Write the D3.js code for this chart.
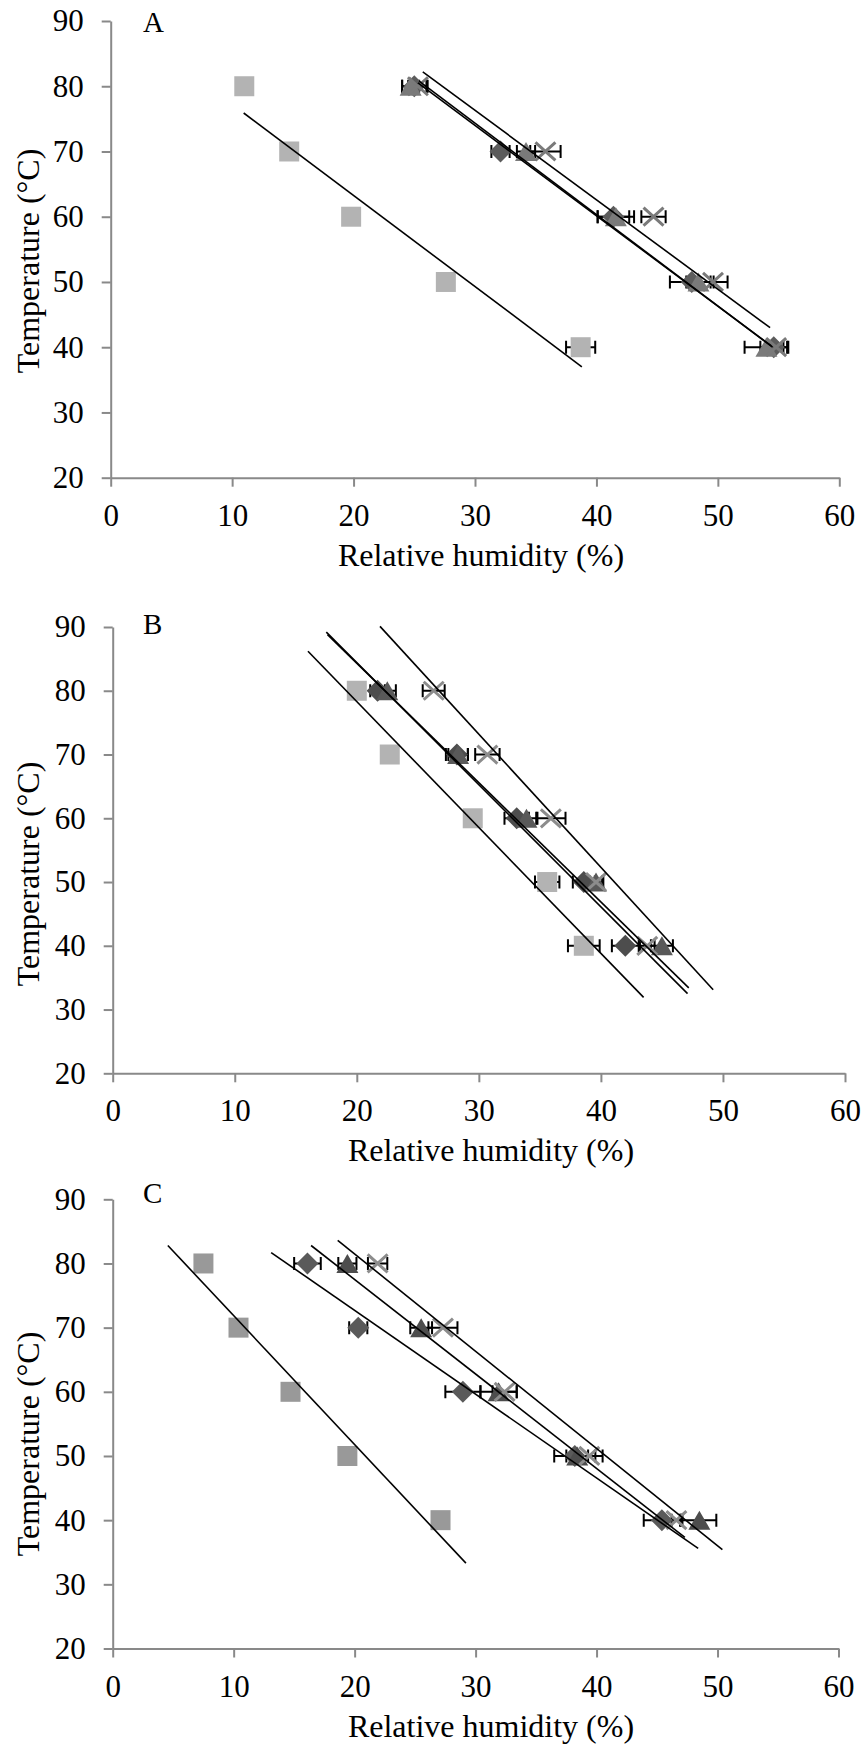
<!DOCTYPE html>
<html>
<head>
<meta charset="utf-8">
<script src="https://cdnjs.cloudflare.com/ajax/libs/d3/7.8.5/d3.min.js"></script>
<style>
body { margin: 0; background: #fff; }
svg text { font-family: "Liberation Serif", "Times New Roman", serif; fill: #000; }
.axis path, .axis line { stroke: #898989; stroke-width: 2; }
.axis text { font-family: "Liberation Serif", "Times New Roman", serif; font-size: 31px; fill: #000; }
</style>
</head>
<body>
<svg id="chart" width="865" height="1751"></svg>
<script>

var temps = [80, 70, 60, 50, 40];
var xTicks = [0, 10, 20, 30, 40, 50, 60];
var yTicks = [20, 30, 40, 50, 60, 70, 80, 90];

// panel A: relative humidity (%) at each temperature, +/- error
var squaresA = [11.0, 14.7, 19.8, 27.6, 38.7];
var squaresErrA = [0.4, 0.4, 0.4, 0.4, 1.2];
var diamondsA = [25.0, 32.1, 41.4, 47.85, 54.6];
var diamondsErrA = [1.0, 0.75, 1.3, 1.8, 1.1];
var trianglesA = [24.7, 34.2, 41.6, 48.4, 54.0];
var trianglesErrA = [0.7, 0.75, 1.5, 1.0, 1.8];
var crossesA = [25.3, 35.8, 44.7, 49.6, 54.8];
var crossesErrA = [0.8, 1.25, 1.0, 1.2, 0.6];
// trendlines: [x1, y1, x2, y2]
var trendA = [[10.95, 75.9, 38.8, 37.0], [25.3, 80.5, 54.4, 40.2], [25.4, 80.8, 54.5, 40.0], [25.7, 82.2, 54.3, 43.0]];

// panel B
var squaresB = [20.0, 22.7, 29.5, 35.6, 38.6];
var squaresErrB = [0.5, 0.5, 0.5, 1.0, 1.3];
var diamondsB = [21.7, 28.2, 33.1, 38.6, 42.0];
var diamondsErrB = [0.6, 0.9, 1.0, 0.9, 1.1];
var trianglesB = [22.5, 28.3, 33.9, 39.6, 45.0];
var trianglesErrB = [0.7, 0.8, 0.9, 0.6, 0.9];
var crossesB = [26.3, 30.7, 35.9, 39.6, 43.8];
var crossesErrB = [0.9, 1.0, 1.2, 0.5, 0.6];
var trendB = [[16.0, 86.2, 43.5, 31.9], [17.5, 89.2, 47.1, 32.5], [17.6, 88.8, 47.2, 33.4], [21.9, 90.1, 49.2, 33.1]];

// panel C
var squaresC = [7.5, 10.4, 14.7, 19.4, 27.1];
var squaresErrC = [0.4, 0.4, 0.4, 0.4, 0.4];
var diamondsC = [16.1, 20.3, 28.95, 38.2, 45.4];
var diamondsErrC = [1.1, 0.75, 1.45, 1.7, 1.5];
var trianglesC = [19.4, 25.5, 31.9, 38.4, 48.5];
var trianglesErrC = [0.75, 0.9, 1.5, 0.9, 1.4];
var crossesC = [21.9, 27.3, 32.4, 39.4, 46.6];
var crossesErrC = [0.8, 1.2, 1.0, 1.1, 0.4];
var trendC = [[4.56, 82.8, 29.2, 33.3], [13.1, 81.7, 48.4, 35.6], [16.4, 82.8, 47.3, 37.3], [18.6, 83.6, 50.4, 35.4]];

var svg = d3.select("#chart");

var shapes = {
	square: "M-10,-10h20v20h-20z",
	diamond: "M0,-11L11,0L0,11L-11,0Z",
	triangle: "M0,-9.5L11,9.5L-11,9.5Z",
	cross: "M-10,-9L10,9M-10,9L10,-9"
};

function addErrorBars(g, x, y, vals, errs) {
	var bars = g.append("g").attr("class", "err")
	bars.selectAll("path")
		.data(vals).enter()
		.append("path")
		.attr("fill", "none")
		.attr("stroke", "#000")
		.attr("stroke-width", 2)
		.attr("d", function(d, i) {
			var x1 = x(d - errs[i]), x2 = x(d + errs[i]), yy = y(temps[i]);
			return "M" + x1 + "," + yy + "H" + x2 +
				"M" + x1 + "," + (yy - 6.5) + "V" + (yy + 6.5) +
				"M" + x2 + "," + (yy - 6.5) + "V" + (yy + 6.5);
		})
}

function addMarkers(g, x, y, vals, kind, color) {
	g.append("g").selectAll("path")
		.data(vals).enter()
		.append("path")
		.attr("transform", function(d, i) { return "translate(" + x(d) + "," + y(temps[i]) + ")"; })
		.attr("d", shapes[kind])
		.attr("fill", kind == "cross" ? "none" : color)
		.attr("stroke", kind == "cross" ? color : "none")
		.attr("stroke-width", 3)
}

/*
p = panel settings: label, pixel box, title positions, series list and trendlines
*/
function addPanel(p) {
	var g = svg.append("g").attr("class", "panel");
	var x = d3.scaleLinear().domain([0, 60]).range([p.left, p.right]);
	var y = d3.scaleLinear().domain([20, 90]).range([p.bottom, p.top]);

	g.append("g")
		.attr("class", "axis")
		.attr("transform", "translate(0," + p.bottom + ")")
		.call(d3.axisBottom(x).tickValues(xTicks).tickSize(9).tickSizeOuter(0).tickPadding(17));
	g.append("g")
		.attr("class", "axis")
		.attr("transform", "translate(" + p.left + ",0)")
		.call(d3.axisLeft(y).tickValues(yTicks).tickSize(9).tickSizeOuter(0).tickPadding(18));

	g.append("text")
		.text("Relative humidity (%)")
		.attr("text-anchor", "middle")
		.attr("x", p.xTitleX)
		.attr("y", p.bottom + 88)
		.style("font-size", "32px")
	g.append("text")
		.text("Temperature (°C)")
		.attr("text-anchor", "middle")
		.attr("transform", "translate(" + 39 + "," + p.yTitleY + ") rotate(-90)")
		.style("font-size", "32px")
	g.append("text")
		.text(p.label)
		.attr("x", 143)
		.attr("y", p.top + p.labelDy)
		.style("font-size", "29px")

	// error bars under the markers
	p.series.forEach(function(s) { addErrorBars(g, x, y, s[0], s[1]); });
	p.series.forEach(function(s) { addMarkers(g, x, y, s[0], s[2], s[3]); });

	g.append("g").selectAll("line")
		.data(p.trend).enter()
		.append("line")
		.attr("x1", function(d) { return x(d[0]); })
		.attr("y1", function(d) { return y(d[1]); })
		.attr("x2", function(d) { return x(d[2]); })
		.attr("y2", function(d) { return y(d[3]); })
		.attr("stroke", "#000")
		.attr("stroke-width", 1.6)
}

addPanel({label: "A", left: 110.7, right: 839.3, top: 21, bottom: 477.7, labelDy: 11, xTitleX: 481, yTitleY: 261,
	series: [[diamondsA, diamondsErrA, "diamond", "#5c5c5c"], [squaresA, squaresErrA, "square", "#b3b3b3"],
		[trianglesA, trianglesErrA, "triangle", "#7a7a7a"], [crossesA, crossesErrA, "cross", "#7a7a7a"]],
	trend: trendA});
addPanel({label: "B", left: 112.7, right: 845, top: 627, bottom: 1073.3, labelDy: 7, xTitleX: 491, yTitleY: 874,
	series: [[diamondsB, diamondsErrB, "diamond", "#4d4d4d"], [squaresB, squaresErrB, "square", "#b3b3b3"],
		[trianglesB, trianglesErrB, "triangle", "#595959"], [crossesB, crossesErrB, "cross", "#8c8c8c"]],
	trend: trendB});
addPanel({label: "C", left: 112.7, right: 838.5, top: 1199.3, bottom: 1648.5, labelDy: 4, xTitleX: 491, yTitleY: 1444,
	series: [[diamondsC, diamondsErrC, "diamond", "#5a5a5a"], [squaresC, squaresErrC, "square", "#999999"],
		[trianglesC, trianglesErrC, "triangle", "#4d4d4d"], [crossesC, crossesErrC, "cross", "#8c8c8c"]],
	trend: trendC});

</script>
</body>
</html>
